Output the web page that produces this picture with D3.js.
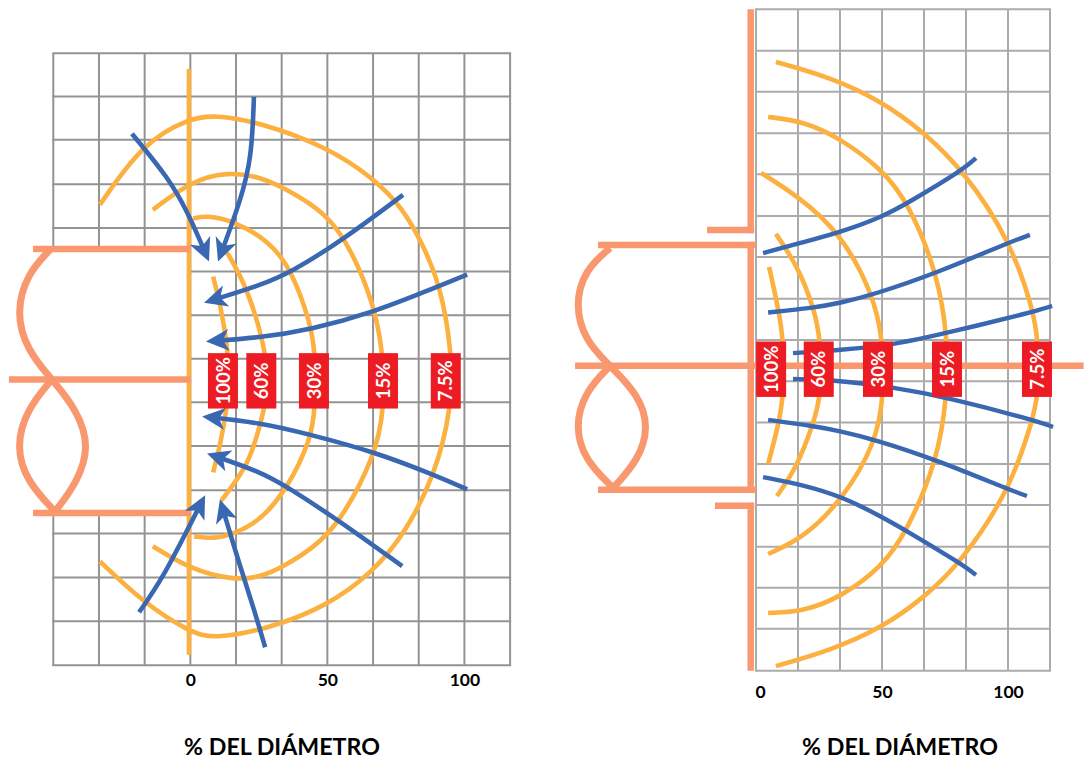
<!DOCTYPE html>
<html><head><meta charset="utf-8">
<script src="https://cdnjs.cloudflare.com/ajax/libs/d3/7.8.5/d3.min.js"></script>
<style>html,body{margin:0;padding:0;background:#fff}svg{display:block}</style>
</head><body>
<svg id="c" width="1084" height="760"></svg>
<script>
// All series are in "% of diameter": [distance from wall, distance above axis]
const axisTicks = [0, 50, 100];
const axisTitle = "% DEL DIÁMETRO";
const isoNames = ["100%", "60%", "30%", "15%", "7.5%"];

// ---------- left panel ----------
const gridXA = [-50,-33.33,-16.67,0,16.67,33.33,50,66.67,83.33,100,116.67];
const gridYA = [119.2,103.4,87.6,71.4,55.4,39.5,23.5,7.6,-8.3,-24.3,-40.4,-56.2,-72.3,-88.3,-104.4];
const labelXA = [11.9,25.9,45.1,70.3,93.2];
const isoA100 = [[8.3,37.6],[10.8,28.1],[13.8,10.9],[14,-1],[13.4,-10.2],[10.8,-24.5],[8.3,-33.9]];
const isoA60 = [[13.4,46.4],[20.7,33.9],[27.6,10.9],[27.9,-1],[27.6,-8.4],[24.3,-20.8],[20.7,-31.8],[10.8,-44.9]];
const isoA30 = [[1,58.8],[6.1,60],[15.6,58],[29.1,50.5],[37.1,39.6],[43.7,21],[45.6,10.2],[45.6,-10.9],[43.9,-21.9],[35.7,-39.4],[25.4,-51.8],[15.6,-56.5],[8.3,-58.2],[1.4,-57.3]];
const isoA15 = [[-13.7,62],[-0.1,72.3],[13.4,76],[25.4,74],[33.5,70.4],[49.9,60.9],[59,47],[66.7,28.1],[70.3,10.9],[70.8,-10.9],[67.4,-28],[54.6,-52.2],[45,-61.5],[33.5,-68.6],[25.4,-72.2],[15.6,-73.3],[-0.1,-69.3],[-13.7,-60.9]];
const isoA75 = [[-33,63.9],[-17.3,86.5],[-0.1,95.6],[9,96.6],[25.4,94],[49.9,85],[66.7,73.7],[77.6,62.6],[85,49],[91.1,34.7],[95.4,10.9],[95.4,-10.9],[89,-35.4],[78.6,-55.7],[66.7,-70.4],[49.9,-82.8],[28,-91.2],[8.3,-94.8],[-0.1,-92.3],[-17.3,-81.4],[-33,-66.4]];
const flowA1 = [[-21.3,89.8],[-17.3,85],[-8.5,74.1],[-1.2,62],[6.8,43.1]];
const flowA2 = [[23.2,103.3],[22.4,81.4],[18.5,65.7],[10.1,43.1]];
const flowA3 = [[77.6,67.5],[55.7,51.1],[37.1,39.4],[25.4,34.3],[5,28.1]];
const flowA4 = [[101,38.3],[90,33.9],[66.7,24.5],[43.7,18.2],[25.4,15.3],[5.7,13.9]];
const flowA5 = [[101,-40.1],[88.6,-34.7],[66.7,-26.3],[43.7,-20.1],[25.4,-15.7],[4.3,-13.5]];
const flowA6 = [[77.3,-68.2],[54.6,-51.8],[35.7,-39.4],[25.4,-33.6],[6.1,-27]];
const flowA7 = [[-18.7,-85],[-10.3,-73],[-0.1,-53],[5.4,-42.3]];
const flowA8 = [[27.3,-97.8],[22.9,-82.8],[18.1,-68.2],[10.8,-43.8]];
const wallA = [[-0.5,113.5],[-0.5,-100.5]];
const pipeTopA = [[-57.4,47.7],[0.2,47.7]];
const pipeMidA = [[-66.2,0],[0.2,0]];
const pipeBotA = [[-57.4,-48.8],[0.2,-48.8]];
const arcTopA = [[-51.2,47.4],[-59.5,38.7],[-63.6,24.5],[-59.7,10.9],[-50.5,0]];
const lensLA = [[-50.5,0],[-59.7,-10.9],[-63.6,-24.5],[-59.7,-37.2],[-49.4,-48.2]];
const lensRA = [[-50.5,0],[-41.5,-10.9],[-36.6,-24.5],[-41.5,-38],[-49.4,-48.2]];
const tankMaskA = [[-50.5,47.7],[0,-48.8]];
const gapsA = [[[7,52.5],[10,43]],[[5.5,-42.7],[10.8,-51]]];

// ---------- right panel ----------
const gridXB = [0,16.67,33.33,50,66.67,83.33,100,116.67];
const gridYB = [141.4,125,108.7,92.2,76,59.4,43.1,26.6,10.2,-6.2,-22.5,-39,-55.3,-71.8,-88.1,-104.4,-121];
const labelXB = [6,24.9,48.4,75.8,111.5];
const isoB100 = [[5.2,39.2],[8.7,23.3],[11,10.2],[11,-12.4],[8.7,-24.3],[4.8,-39]];
const isoB60 = [[7.9,52.3],[16.7,39.2],[22.8,23.3],[25.8,10.2],[25.8,-12.4],[22.8,-22.7],[16.3,-40.2],[8.3,-51.7]];
const isoB30 = [[2,76.5],[16.7,67.2],[33.3,53],[46.3,28.9],[50.5,10.2],[50.7,-12.4],[47.5,-30.7],[34.5,-53],[18.7,-68.5],[4.8,-74.7]];
const isoB15 = [[4.8,98.7],[18.7,97],[33,90.5],[50,78],[60.5,64.6],[72,36.8],[76.2,10.2],[75.8,-12.4],[72,-37.4],[60.2,-65.2],[50,-80],[33.3,-92],[18.7,-97.5],[4.8,-98.1]];
const isoB75 = [[7.9,120.5],[29.4,114.5],[50,104.9],[66.7,92.6],[82.1,77.7],[100.8,49.9],[110,22.1],[112,10.2],[112,-12.4],[109.7,-21.5],[100.8,-49.3],[81.2,-78.3],[66.7,-92],[50,-104],[29.4,-113],[7.9,-119.2]];
const flowB1 = [[2.8,44.7],[17.5,48.7],[33.3,52.9],[50,59],[60.3,64.6],[82.1,77.7],[87.3,82.4]];
const flowB2 = [[4.8,21.1],[22.6,22.9],[33.3,24.9],[46,28],[71.8,36.8],[100.8,49.1],[108.7,51.9]];
const flowB3 = [[14.7,5],[33.3,6.2],[54.4,8.2],[75.8,13],[109.9,21.3],[117.5,23.7]];
const flowB4 = [[14.7,-5.3],[29.4,-5.5],[54.4,-8.5],[77,-12.8],[109.9,-21.5],[117.9,-24.3]];
const flowB5 = [[4.8,-21.5],[22.6,-23.9],[33.3,-25.9],[47.2,-29.3],[71.8,-37.4],[100.8,-49.3],[107.5,-51.7]];
const flowB6 = [[2.8,-44.2],[18.7,-47.3],[34.5,-52.1],[50,-60],[59.9,-65.6],[81,-78.3],[87.3,-83]];
const wallB = [[[-2.1,141.4],[-2.1,52.6]],[[-2.1,49.2],[-2.1,-50.3]],[[-2.1,-54.4],[-2.1,-121]]];
const elbowsB = [[[-19.4,53.8],[-0.7,53.8]],[[-16.3,-55.6],[-0.7,-55.6]]];
const pipeTopB = [[-62.7,47.9],[0,47.9]];
const pipeMidB = [[-71.8,0],[130,0]];
const pipeBotB = [[-62.7,-49.2],[0,-49.2]];
const arcTopB = [[-57.9,46.7],[-68,38],[-71.8,24.1],[-68,10.2],[-57.9,-0.1]];
const lensLB = [[-57.9,-0.1],[-68,-10.4],[-71.8,-24.3],[-68,-37.4],[-56.7,-48.5]];
const lensRB = [[-57.9,-0.1],[-46.6,-11.6],[-42.5,-24.3],[-46.6,-37.4],[-56.7,-48.5]];

const COL = {orange:"#FBB040", salmon:"#F9986E", blue:"#3A67B1", red:"#ED1C24"};
const FONT = "Lato, 'Open Sans', sans-serif";
const svg = d3.select("#c");

function panel(o){
  const x = d3.scaleLinear().domain(o.xd).range(o.xr);
  const y = d3.scaleLinear().domain(o.yd).range(o.yr);
  const g = svg.append("g");
  const curve = d3.line().x(d=>x(d[0])).y(d=>y(d[1])).curve(d3.curveBasis);
  const straight = d3.line().x(d=>x(d[0])).y(d=>y(d[1]));

  // grid
  const grid = g.append("g").attr("stroke",o.grid).attr("stroke-width",o.gridW).attr("fill","none");
  grid.selectAll(".v").data(o.gridX).join("line").attr("x1",d=>x(d)).attr("x2",d=>x(d)).attr("y1",o.yr[0]).attr("y2",o.yr[1]);
  grid.selectAll(".h").data(o.gridY).join("line").attr("y1",d=>y(d)).attr("y2",d=>y(d)).attr("x1",o.xr[0]-o.gridW/2).attr("x2",o.xr[1]+o.gridW/2);

  if(o.mask){
    const [a,b]=o.mask;
    g.append("rect").attr("x",x(a[0])-2).attr("y",y(a[1])).attr("width",x(b[0])-x(a[0])+2).attr("height",y(b[1])-y(a[1])).attr("fill","#fff");
  }
  if(o.orangeWall) g.append("path").attr("d",straight(o.orangeWall)).attr("stroke",COL.orange).attr("stroke-width",4.6).attr("fill","none");

  // vessel
  const sal = g.append("g").attr("stroke",COL.salmon).attr("fill","none");
  (o.arcs).forEach(a=>sal.append("path").attr("d",curve(a)).attr("stroke-width",7));
  (o.pipes).forEach(a=>sal.append("path").attr("d",straight(a)).attr("stroke-width",6.5));

  // isodose curves
  g.append("g").selectAll("path").data(o.iso).join("path").attr("d",curve)
    .attr("stroke",COL.orange).attr("stroke-width",4.6).attr("fill","none");

  (o.gaps||[]).forEach(([a,b])=>{
    g.append("rect").attr("x",x(a[0])).attr("y",y(a[1])).attr("width",x(b[0])-x(a[0])).attr("height",y(b[1])-y(a[1])).attr("fill","#fff");
  });

  // flow lines
  const flow = g.append("g");
  o.flows.forEach(f=>{
    const p = flow.append("path").attr("d",curve(f)).attr("stroke",COL.blue).attr("stroke-width",o.flowW).attr("fill","none");
    if(o.arrows){
      const n = p.node(), L = n.getTotalLength();
      const tip = n.getPointAtLength(L), back = n.getPointAtLength(L-16);
      const ang = Math.atan2(tip.y-back.y,tip.x-back.x)*180/Math.PI;
      p.attr("stroke-dasharray",(L-12)+" 1000");
      flow.append("path").attr("d","M0,0L-23,-11L-17,0L-23,11Z").attr("fill",COL.blue)
        .attr("transform",`translate(${tip.x},${tip.y}) rotate(${ang})`);
    }
  });

  // labels
  const lab = g.append("g").selectAll("g").data(isoNames).join("g")
    .attr("transform",(d,i)=>`translate(${x(o.labelX[i])},${y(0)+o.labelDy})`);
  lab.append("rect").attr("x",-15).attr("y",-27.7).attr("width",30).attr("height",55.4).attr("fill",COL.red);
  lab.append("text").attr("transform","rotate(-90)").attr("text-anchor","middle").attr("dy","0.36em")
    .attr("fill","#fff").attr("font-family",FONT).attr("font-weight",700).attr("font-size",18.5).text(d=>d);

  // axis
  const ax = g.append("g").attr("transform",`translate(0,${o.axisY})`)
    .call(d3.axisBottom(x).tickValues(axisTicks).tickSize(0).tickPadding(0));
  ax.select(".domain").remove();
  ax.selectAll("text").attr("font-family",FONT).attr("font-weight",700).attr("font-size",17.5).attr("fill","#000").attr("y",0).attr("dy",0)
    .attr("dx",d=>d===0?o.zeroDx:0);

  g.append("text").attr("x",o.titleX).attr("y",755).attr("text-anchor","middle")
    .attr("font-family",FONT).attr("font-weight",700).attr("font-size",23.2).attr("fill","#000").text(axisTitle);
}

panel({
  xd:[-50,116.67], xr:[53.3,510.1], yd:[119.2,-104.4], yr:[53.3,665.3],
  grid:"#939393", gridW:2, gridX:gridXA, gridY:gridYA, mask:tankMaskA, orangeWall:wallA,
  arcs:[arcTopA,lensLA,lensRA], pipes:[pipeTopA,pipeMidA,pipeBotA],
  iso:[isoA100,isoA60,isoA30,isoA15,isoA75], gaps:gapsA,
  flows:[flowA1,flowA2,flowA3,flowA4,flowA5,flowA6,flowA7,flowA8], flowW:4.6, arrows:true,
  labelX:labelXA, labelDy:1.3, axisY:686, zeroDx:0, titleX:282
});
panel({
  xd:[0,116.67], xr:[756,1050], yd:[141.4,-121], yr:[9.3,670.7],
  grid:"#ABABAB", gridW:2, gridX:gridXB, gridY:gridYB,
  arcs:[arcTopB,lensLB,lensRB], pipes:[...wallB,...elbowsB,pipeTopB,pipeMidB,pipeBotB],
  iso:[isoB100,isoB60,isoB30,isoB15,isoB75],
  flows:[flowB1,flowB2,flowB3,flowB4,flowB5,flowB6], flowW:4.4, arrows:false,
  labelX:labelXB, labelDy:3.5, axisY:698, zeroDx:4, titleX:900
});
</script>
</body></html>
